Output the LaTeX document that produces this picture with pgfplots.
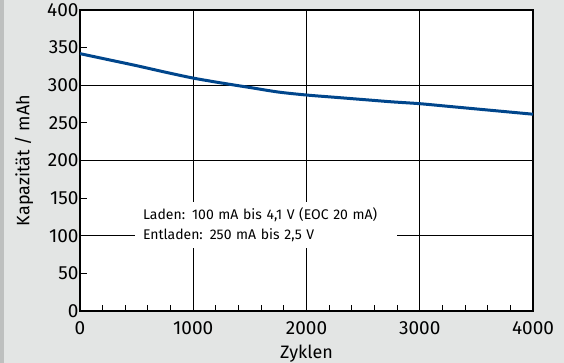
\documentclass[border=0pt]{standalone}
\usepackage{pgfplots}
\pgfplotsset{compat=1.18}
\usepackage{fontspec}
\setmainfont{Fira Sans}
\definecolor{bggray}{RGB}{227,229,228}
\definecolor{stripgray}{RGB}{190,192,191}
\definecolor{curveblue}{RGB}{0,70,140}
\begin{document}
\begin{tikzpicture}[x=1pt,y=1pt]
\path[use as bounding box, fill=bggray] (-80,-52) rectangle (484,311);
\fill[stripgray] (-80,-52) rectangle (-76,311);
\begin{axis}[
  at={(0,0)}, anchor=south west,
  scale only axis,
  width=453pt, height=301pt,
  xmin=0, xmax=4000, ymin=0, ymax=400,
  xtick={0,1000,2000,3000,4000},
  minor x tick num=4,
  ytick={0,100,200,300,400},
  extra y ticks={50,150,250,350},
  extra y tick style={grid=none},
  grid=major,
  major grid style={black, line width=1.1pt},
  axis line style={black, line width=1.3pt},
  tick style={black, line width=1pt},
  major tick length=7pt, minor tick length=6pt,
  tick align=inside,
  tick pos=left,
  axis background/.style={fill=white},
  /pgf/number format/assume math mode=true,
  /pgf/number format/1000 sep={},
  ticklabel style={font=\fontsize{19}{22}\selectfont},
  yticklabel style={xshift=2pt},
  xticklabel style={yshift=-7pt},
  xlabel={Zyklen},
  ylabel={Kapazität / mAh},
  label style={font=\fontsize{18}{21}\selectfont},
  xlabel style={at={(axis description cs:0.5,0)}, anchor=north, yshift=-30pt},
  ylabel style={at={(axis description cs:0,0.5)}, anchor=center, yshift=56pt},
]
\addplot[curveblue, line width=3pt, smooth, tension=0.5] coordinates {
(0,342) (250,334) (500,326) (750,317.5) (1000,309.5) (1250,303) (1500,297)
(1750,291) (2000,287) (2250,284) (2500,281) (2750,278) (3000,275.5)
(3250,272) (3500,268.5) (3750,265) (4000,261.5)
};
\node[fill=white, anchor=west, align=left, text width=246pt, inner xsep=8pt,
      minimum height=46pt, font=\fontsize{14}{20}\selectfont]
  at (axis cs:485,114.5) {Laden: 100 mA bis 4,1 V (EOC 20 mA)\\Entladen: 250 mA bis 2,5 V};
\end{axis}
\end{tikzpicture}
\end{document}
